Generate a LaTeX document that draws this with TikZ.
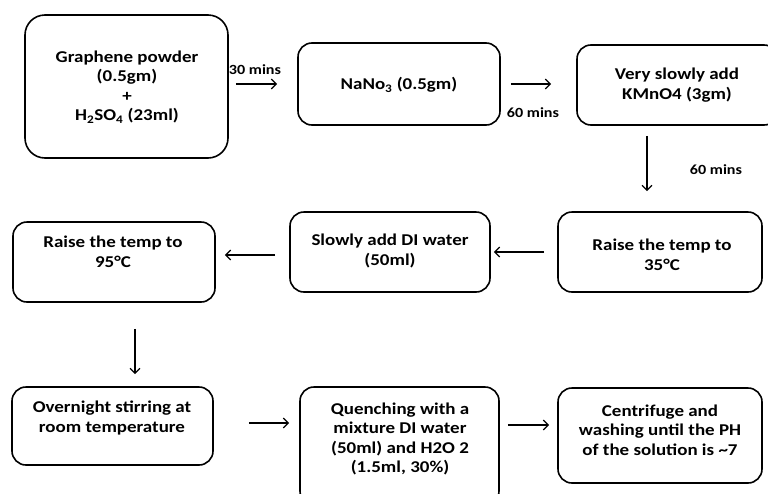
\documentclass[tikz,border=0pt]{standalone}
\usepackage{fontspec}
\setmainfont{Carlito}[FakeStretch=1.15]
\usetikzlibrary{arrows.meta}
\tikzset{
  boxa/.style={draw, line width=1.6pt, rounded corners=14pt, rectangle, inner sep=0pt},
  txt/.style={align=center, inner sep=0pt, font=\fontsize{16.5}{19.5}\selectfont\bfseries},
  lbl/.style={inner sep=0pt, font=\fontsize{14}{16}\selectfont\bfseries},
  arr/.style={line width=1.3pt, -{Straight Barb[length=5pt,width=10pt,line width=1.3pt]}}
}
\begin{document}
\begin{tikzpicture}[x=1pt,y=-1pt]
\useasboundingbox (0,0) rectangle (768,493);
% boxes
\node[boxa, rounded corners=20pt, minimum width=203pt, minimum height=143pt] (b1) at (126.5,86.5) {};
\node[boxa, minimum width=202pt, minimum height=82pt] (b2) at (399,84) {};
\node[boxa, minimum width=201pt, minimum height=80pt] (b3) at (677.5,85) {};
\node[boxa, minimum width=202pt, minimum height=80pt] (b4) at (114,262) {};
\node[boxa, minimum width=200pt, minimum height=80pt] (b5) at (390,252) {};
\node[boxa, minimum width=204pt, minimum height=80pt] (b6) at (660,252) {};
\node[boxa, minimum width=201pt, minimum height=78pt] (b7) at (112.5,426) {};
\node[boxa, minimum width=199pt, minimum height=118pt] (b8) at (399.5,446) {};
\node[boxa, minimum width=204pt, minimum height=95pt] (b9) at (660,435.5) {};
% texts
\node[txt] (t1) at (127,87) {Graphene powder\\(0.5gm)\\+\\H\textsubscript{2}SO\textsubscript{4} (23ml)};
\node[txt] (t2) at (399,85) {NaNo\textsubscript{3} (0.5gm)};
\node[txt] (t3) at (677,85) {Very slowly add\\KMnO4 (3gm)};
\node[txt] (t4) at (113,252) {Raise the temp to\\95°C};
\node[txt] (t5) at (390,251) {Slowly add DI water\\(50ml)};
\node[txt] (t6) at (662,255) {Raise the temp to\\35°C};
\node[txt] (t7) at (112,418) {Overnight stirring at\\room temperature};
\node[txt] (t8) at (400,439) {Quenching with a\\mixture DI water\\(50ml) and H2O 2\\(1.5ml, 30\%)};
\node[txt] (t9) at (660,430) {Centrifuge and\\washing until the PH\\of the solution is \textasciitilde7};
% labels
\node[lbl] (l1) at (255,70) {30 mins};
\node[lbl] (l2) at (533,113) {60 mins};
\node[lbl] (l3) at (716,170) {60 mins};
% connectors
\draw[arr, shorten <=7pt, shorten >=20pt] (b1.east |- b2.west) -- (b2.west);
\draw[arr, shorten <=10pt, shorten >=25pt] (b2.east) -- (b2.east -| b3.west);
\draw[arr, shorten <=10pt, shorten >=20pt] ([xshift=-30.5pt]b3.south) -- ([xshift=-13pt]b6.north);
\draw[arr, shorten <=13pt, shorten >=3pt] (b6.west) -- (b5.east);
\draw[arr, shorten <=14pt, shorten >=9pt] ([yshift=-3pt]b5.west) -- ([yshift=-3pt]b5.west -| b4.east);
\draw[arr, shorten <=26pt, shorten >=12pt] ([xshift=21pt]b4.south) -- ([xshift=21pt]b4.south |- b7.north);
\draw[arr, shorten <=35pt, shorten >=10pt] ([yshift=3pt]b7.east) -- ([yshift=3pt]b7.east -| b8.west);
\draw[arr, shorten <=8pt, shorten >=8pt] ([yshift=21pt]b8.east) -- ([yshift=21pt]b8.east -| b9.west);
\end{tikzpicture}
\end{document}
